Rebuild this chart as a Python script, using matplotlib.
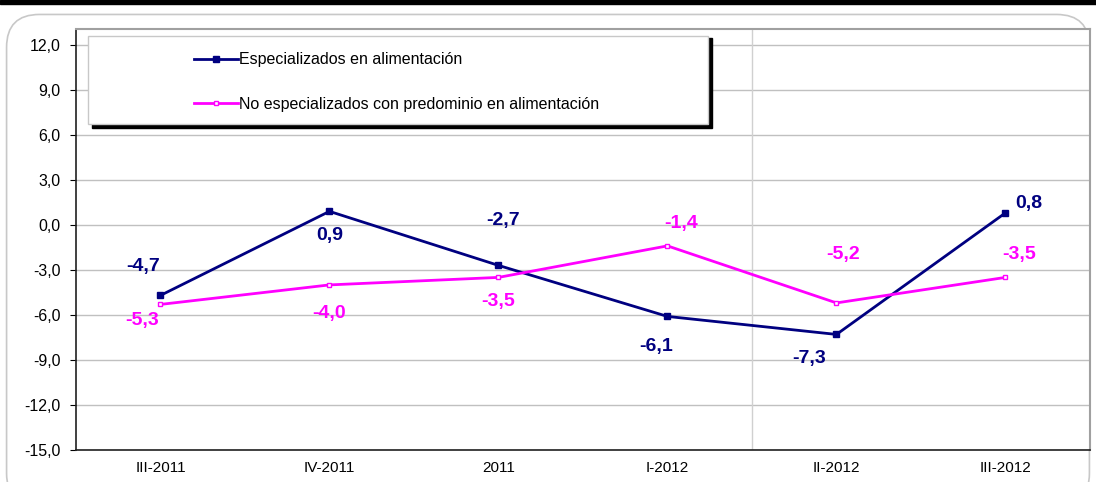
import numpy as np
import matplotlib.pyplot as plt
from matplotlib.patches import FancyBboxPatch, Rectangle

plt.rcParams['font.family'] = ['Liberation Sans', 'DejaVu Sans']

# datos
periodos = ['III-2011', 'IV-2011', '2011', 'I-2012', 'II-2012', 'III-2012']
especializados = [-4.7, 0.9, -2.7, -6.1, -7.3, 0.8]
no_especializados = [-5.3, -4.0, -3.5, -1.4, -5.2, -3.5]
yticks = [12, 9, 6, 3, 0, -3, -6, -9, -12, -15]

azul = '#000080'
rosa = '#FF00FF'

fig = plt.figure(figsize=(10.96, 4.82), dpi=100)

# barra negra arriba y marco redondeado
fig.patches.append(Rectangle((0, 0.992), 1, 0.008, transform=fig.transFigure,
                             color='black', zorder=0))
fig.patches.append(FancyBboxPatch((0.006, -0.05), 0.988, 1.02, transform=fig.transFigure,
                                  boxstyle='round,pad=0,rounding_size=0.03',
                                  fc='none', ec='#c8c8c8', lw=1.2, zorder=-1,
                                  mutation_aspect=2.27))

ax = fig.add_axes([0.0693, 0.0664, 0.9252, 0.8734])
x = np.arange(len(periodos))

ax.plot(x, especializados, color=azul, lw=2, marker='s', ms=5,
        mfc=azul, mec=azul, label='Especializados en alimentación', zorder=3)
ax.plot(x, no_especializados, color=rosa, lw=2, marker='s', ms=3.5,
        mfc='white', mec=rosa, mew=1, label='No especializados con predominio en alimentación', zorder=3)

ax.set_xlim(-0.5, 5.5)
ax.set_ylim(-15, 13.05)
ax.set_yticks(yticks)
ax.set_yticklabels([f'{v:.1f}'.replace('.', ',') for v in yticks], fontsize=11.5)
ax.set_xticks(x)
ax.set_xticklabels(periodos, fontsize=11)
ax.tick_params(axis='x', length=0, pad=8)
ax.tick_params(axis='y', length=4, direction='out', pad=7)
ax.grid(axis='y', color='#c0c0c0', lw=1)
ax.axvline(3.5, color='#d0d0d0', lw=1, zorder=1)
ax.set_axisbelow(True)
for s in ['top', 'right']:
    ax.spines[s].set_color('#a0a0a0')
    ax.spines[s].set_linewidth(1.5)
for s in ['left', 'bottom']:
    ax.spines[s].set_color('#202020')
    ax.spines[s].set_linewidth(1.2)

# etiquetas de datos
def fmt(v):
    return f'{v:.1f}'.replace('.', ',')

off_azul = [(-0.1, 1.9), (0, -1.6), (0.03, 3.0), (-0.07, -2.0), (-0.16, -1.6), (0.14, 0.6)]
off_rosa = [(-0.11, -1.1), (0, -1.9), (0, -1.6), (0.08, 1.5), (0.04, 3.2), (0.08, 1.5)]
for i, v in enumerate(especializados):
    dx, dy = off_azul[i]
    ax.text(i + dx, v + dy, fmt(v), color=azul, fontsize=14, fontweight='bold',
            ha='center', va='center')
for i, v in enumerate(no_especializados):
    dx, dy = off_rosa[i]
    ax.text(i + dx, v + dy, fmt(v), color=rosa, fontsize=14, fontweight='bold',
            ha='center', va='center')

# leyenda con sombra
sombra = Rectangle((92 / 1096, 1 - 128 / 482), 620 / 1096, 90 / 482,
                   transform=fig.transFigure, color='black', zorder=4)
fig.patches.append(sombra)
caja = Rectangle((88 / 1096, 1 - 124 / 482), 620 / 1096, 88 / 482,
                 transform=fig.transFigure, fc='white', ec='#c8c8c8', lw=1, zorder=5)
fig.patches.append(caja)
leg = fig.legend(loc='upper left', bbox_to_anchor=(188 / 1096, 1 - 46 / 482),
                 frameon=False, fontsize=11.5, handlelength=2.7, handletextpad=0.1,
                 labelspacing=1.85, borderaxespad=0)
leg.set_zorder(6)

fig.savefig('out.png', dpi=100)
